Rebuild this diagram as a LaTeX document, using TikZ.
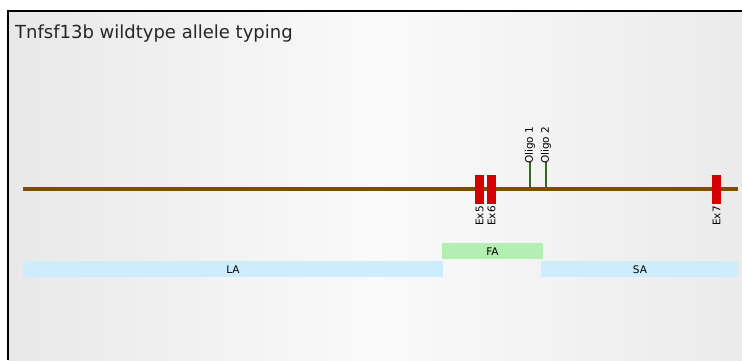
\documentclass[tikz,border=0pt]{standalone}
\usepackage{fontspec}
\setmainfont{DejaVu Sans}
\begin{document}
\begin{tikzpicture}[x=1pt,y=-1pt,
  exon/.style={fill=exred,draw=none},
  oligo/.style={draw=oligogreen,line width=2pt},
  tiny/.style={font=\fontsize{10.5}{11}\selectfont,inner sep=0pt},
  armbox/.style={draw=none,inner sep=0pt,font=\fontsize{10.5}{11}\selectfont}]
\definecolor{exred}{HTML}{D40000}
\definecolor{oligogreen}{HTML}{2E6B1E}
\definecolor{backbone}{HTML}{7F4C00}
\definecolor{fagreen}{HTML}{B3EFB3}
\definecolor{armblue}{HTML}{CDEDFC}
\useasboundingbox (0,0) rectangle (742,360);
\fill[white] (0,0) rectangle (742,360);
\shade[left color=black!9, right color=black!8, middle color=black!2] (8,11) rectangle (742,360);
\draw[black,line width=1.3pt] (8,360) -- (8,11) -- (742,11);
\node[anchor=base west,inner sep=0pt,font=\fontsize{18}{20}\selectfont,text=black!85] (title) at (15,38) {Tnfsf13b wildtype allele typing};
% backbone
\draw[backbone,line width=3.5pt] (23,189) coordinate (bbL) -- (738,189) coordinate (bbR);
% exons
\fill[exred] (475,175) rectangle (484,204) coordinate (ex5c);
\fill[exred] (487,175) rectangle (496,204) coordinate (ex6c);
\fill[exred] (712,175) rectangle (721,204) coordinate (ex7c);
\node[tiny,rotate=90,anchor=east] (ex5) at (479.5,206) {Ex5};
\node[tiny,rotate=90,anchor=east] (ex6) at (491.5,206) {Ex6};
\node[tiny,rotate=90,anchor=east] (ex7) at (716.5,206) {Ex7};
% oligos
\coordinate (o1b) at (530,188);
\coordinate (o2b) at (546,188);
\coordinate (o1t) at (530,162);
\coordinate (o2t) at (546,162);
\draw[oligo] (o1b) -- (o1t);
\draw[oligo] (o2b) -- (o2t);
\node[tiny,rotate=90,anchor=west] (ol1) at ([yshift=-2pt]o1t) {Oligo 1};
\node[tiny,rotate=90,anchor=west] (ol2) at ([yshift=-2pt]o2t) {Oligo 2};
% arms
\fill[fagreen] (442,243) rectangle (543,259);
\node[armbox] (FA) at (492.5,251.5) {FA};
\fill[armblue] (23,261) rectangle (443,277);
\node[armbox] (LA) at (233,269.5) {LA};
\fill[armblue] (541,261) rectangle (738,277);
\node[armbox] (SA) at (640,269.5) {SA};
\end{tikzpicture}
\end{document}
